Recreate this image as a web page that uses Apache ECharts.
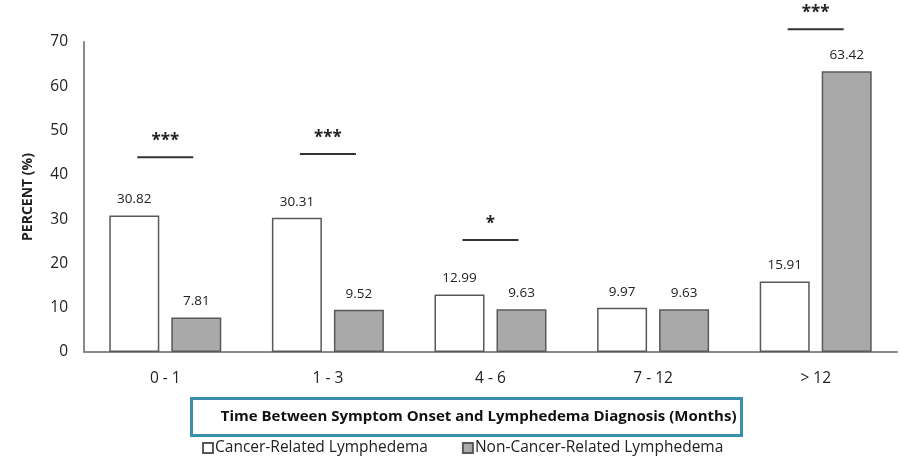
<!DOCTYPE html>
<html>
<head>
<meta charset="utf-8">
<script src="https://cdn.jsdelivr.net/npm/echarts@6/dist/echarts.min.js"></script>
<style>
  html, body { margin: 0; padding: 0; background: #fff; }
  #chart { width: 900px; height: 456px; }
</style>
</head>
<body>
<div id="chart"></div>
<script>
    const categories = ['0 - 1', '1 - 3', '4 - 6', '7 - 12', '> 12']
    const cancerRelated = [30.82, 30.31, 12.99, 9.97, 15.91]
    const nonCancerRelated = [7.81, 9.52, 9.63, 9.63, 63.42]
    // significance bracket: [category index, height in %, stars]
    const significance = [
        [0, 44.0, '***'],
        [1, 44.7, '***'],
        [2, 25.3, '*'],
        [4, 72.9, '***']
    ]

    const font = 'Open Sans'
    const textColor = '#222'

    const myChart = echarts.init(document.getElementById('chart'))

    const options = {
        animation: false,
        textStyle: { fontFamily: font },
        grid: {
            left: 84,
            right: 3,
            top: 42,
            bottom: 104
        },
        legend: {
            left: 197,
            top: 435,
            itemWidth: 10,
            itemHeight: 10,
            itemGap: 34,
            icon: 'rect',
            textStyle: { fontFamily: font, fontSize: 15.5, color: textColor, padding: [0, 0, 0, -3] },
            data: ['Cancer-Related Lymphedema', 'Non-Cancer-Related Lymphedema']
        },
        xAxis: {
            type: 'category',
            data: categories,
            axisLine: { lineStyle: { color: '#8a8a8a', width: 2 } },
            axisTick: { show: false },
            axisLabel: { color: textColor, fontSize: 15.5, margin: 19, fontFamily: font }
        },
        yAxis: {
            type: 'value',
            min: 0,
            max: 70,
            interval: 10,
            name: 'PERCENT (%)',
            nameLocation: 'middle',
            nameGap: 49,
            nameTextStyle: { fontWeight: 'bold', fontSize: 14, color: textColor, fontFamily: font },
            axisLine: { show: true, lineStyle: { color: '#8a8a8a', width: 2 } },
            axisTick: { show: false },
            splitLine: { show: false },
            axisLabel: { color: textColor, fontSize: 15.5, margin: 16, fontFamily: font }
        },
        graphic: [
            {
                type: 'group',
                left: 190,
                top: 397,
                children: [
                    {
                        type: 'rect',
                        shape: { x: 0, y: 0, width: 550, height: 37 },
                        style: { fill: '#fff', stroke: '#3a8fae', lineWidth: 3 }
                    },
                    {
                        type: 'text',
                        x: 545,
                        y: 18.5,
                        style: {
                            text: 'Time Between Symptom Onset and Lymphedema Diagnosis (Months)',
                            fontFamily: font,
                            fontWeight: 'bold',
                            fontSize: 15,
                            fill: '#111',
                            align: 'right',
                            verticalAlign: 'middle'
                        }
                    }
                ]
            }
        ],
        series: [
            {
                name: 'Cancer-Related Lymphedema',
                type: 'bar',
                data: cancerRelated,
                barWidth: 50,
                barGap: '24%',
                itemStyle: { color: '#ffffff', borderColor: '#595959', borderWidth: 1.5 },
                label: {
                    show: true,
                    position: 'top',
                    distance: 9,
                    fontSize: 13.5,
                    color: textColor,
                    fontFamily: font
                }
            },
            {
                name: 'Non-Cancer-Related Lymphedema',
                type: 'bar',
                data: nonCancerRelated,
                barWidth: 50,
                itemStyle: { color: '#a9a9a9', borderColor: '#595959', borderWidth: 1.5 },
                label: {
                    show: true,
                    position: 'top',
                    distance: 9,
                    fontSize: 13.5,
                    color: textColor,
                    fontFamily: font
                }
            },
            {
                name: 'sig',
                type: 'custom',
                clip: false,
                silent: true,
                data: significance,
                renderItem: (params, api) => {
                    const p = api.coord([api.value(0), api.value(1)])
                    const stars = significance[params.dataIndex][2]
                    return {
                        type: 'group',
                        children: [
                            {
                                type: 'line',
                                shape: { x1: p[0] - 28, y1: p[1], x2: p[0] + 28, y2: p[1] },
                                style: { stroke: '#333', lineWidth: 2 }
                            },
                            {
                                type: 'text',
                                x: p[0],
                                y: p[1] - 16,
                                style: {
                                    text: stars,
                                    fontFamily: font,
                                    fontWeight: 'bold',
                                    fontSize: 17,
                                    fill: '#222',
                                    align: 'center',
                                    verticalAlign: 'middle'
                                }
                            }
                        ]
                    }
                }
            }
        ]
    }

    myChart.setOption(options)
</script>
</body>
</html>
